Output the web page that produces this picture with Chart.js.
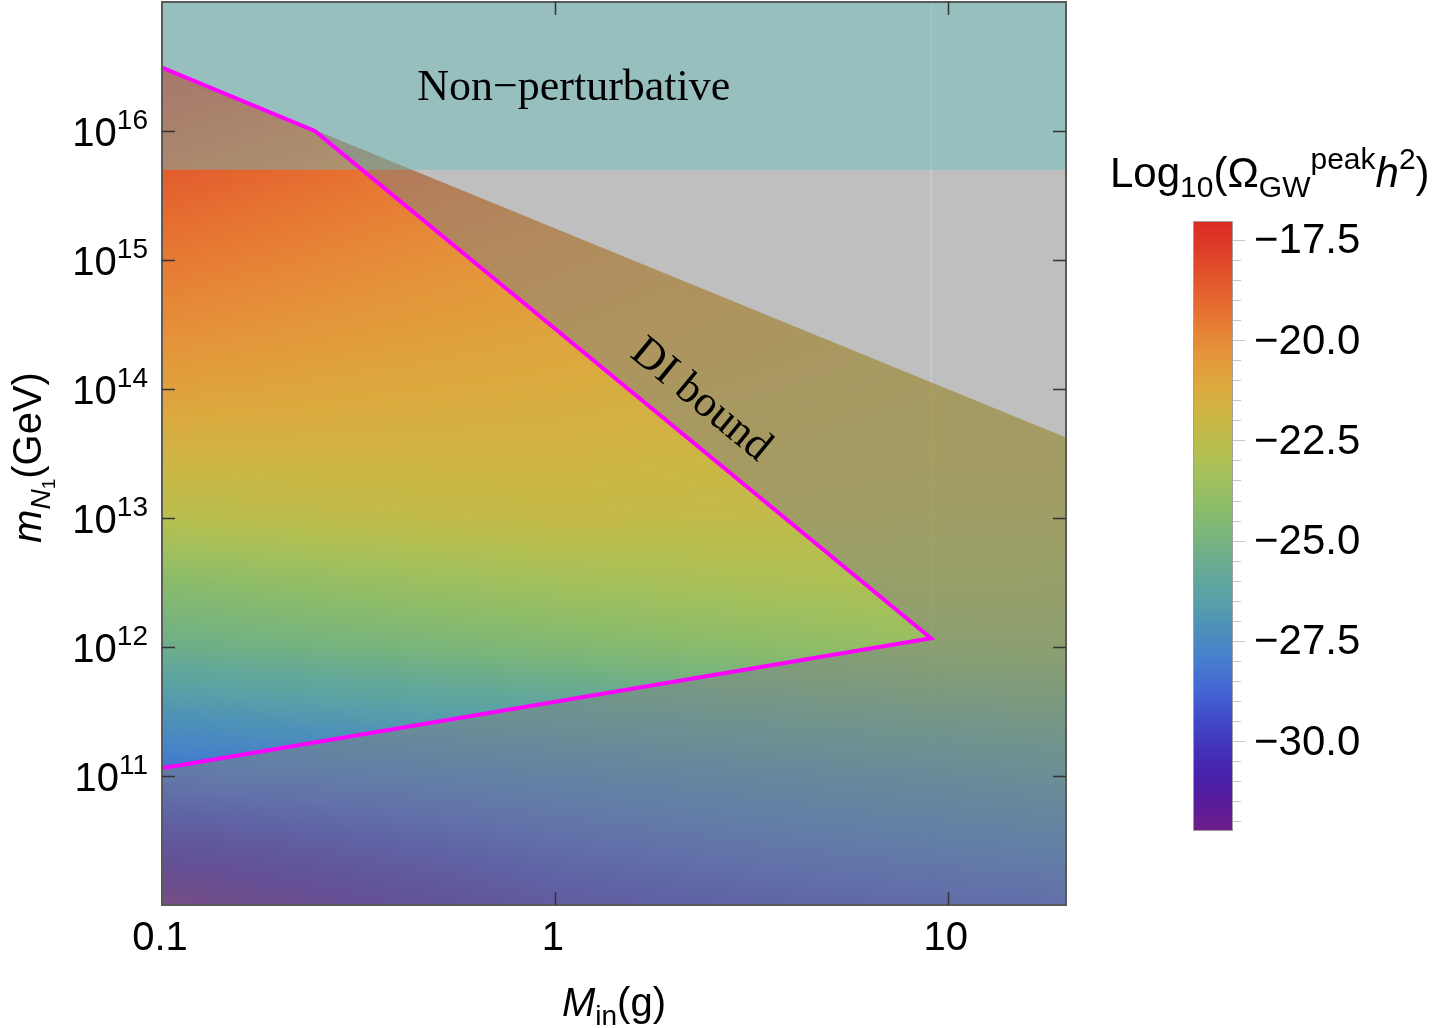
<!DOCTYPE html>
<html>
<head>
<meta charset="utf-8">
<script src="https://cdn.jsdelivr.net/npm/chart.js@4/dist/chart.umd.min.js"></script>
<style>
  html, body { margin: 0; padding: 0; background: #ffffff; }
  #wrap { width: 1432px; height: 1028px; position: relative; }
</style>
</head>
<body>
<div id="wrap"><canvas id="c" width="1432" height="1028"></canvas></div>
<script>
// ---------------- data ----------------
// Axis ranges
const xRange = [0.1, 20];          // M_in (g)
const yRange = [1e10, 1e17];       // m_N1 (GeV)

// Tick values / labels
const xTickValues = [0.1, 1, 10];
const xTickLabels = ['0.1', '1', '10'];
const yTickExponents = [11, 12, 13, 14, 15, 16];

// Grid on which Log10(Omega_GW^peak h^2) was read (log10 of M_in, log10 of m_N1)
const gridLogM = [-1, -0.5, 0, 0.5, 1, 1.301];
const gridLogMN = [10, 10.5, 11, 11.5, 12, 12.5, 13, 13.5, 14, 14.5, 15, 15.5, 16, 16.5, 17];
const omegaPeak = [
  [-32.2, -31.0, -30.0, -29.5, -29.1, -28.9],
  [-30.3, -29.6, -28.9, -28.4, -28.0, -27.8],
  [-28.4, -28.1, -27.7, -27.3, -26.9, -26.6],
  [-27.0, -26.6, -26.2, -25.8, -25.4, -25.2],
  [-25.4, -25.0, -24.6, -24.2, -23.8, -23.7],
  [-24.3, -23.8, -23.4, -23.1, -22.9, -23.0],
  [-22.7, -22.4, -22.2, -22.3, -22.5, -22.5],
  [-21.7, -21.7, -21.7, -21.9, -22.1, -22.1],
  [-20.8, -21.1, -21.3, -21.6, -21.9, -22.0],
  [-20.1, -20.5, -20.9, -21.3, -21.7, -21.9],
  [-19.5, -20.0, -20.5, -21.0, -21.4, -21.6],
  [-18.9, -19.5, -20.0, -20.5, -21.0, -21.3],
  [-18.3, -18.9, -19.4, -20.0, -20.5, -20.8],
  [-17.7, -18.3, -18.9, -19.5, -20.1, -20.4],
  [-17.05, -17.7, -18.3, -18.9, -19.5, -19.8]
];

// Upper edge of the computed region (straight line in log-log)
const boundaryM = [0.1, 20];
const boundaryMN = [3.1e16, 4.2e13];

// DI bound (magenta closed contour)
const diBoundM = [0.1, 0.245, 9.06, 0.1];
const diBoundMN = [3.1e16, 1.0e16, 1.17e12, 1.15e11];

// Non-perturbative limit
const nonPertMN = 5e15;

// Colour bar
const cbarRange = [-32.24, -17.03];
const cbarTicks = [-17.5, -20.0, -22.5, -25.0, -27.5, -30.0];
const cbarStopValues = [-17.03, -17.79, -18.55, -19.31, -19.77, -20.38, -21.14, -21.90, -22.66, -23.42, -24.18,
                        -24.94, -25.70, -26.46, -27.22, -27.98, -28.74, -29.50, -30.26, -31.02, -31.63, -32.24];
const cbarStopColors = ['#dc2a24', '#de3e28', '#e2582c', '#e67232', '#e68236', '#e4963a', '#dca83e', '#ccb644',
                        '#b8be4e', '#a2c05c', '#8cbc6a', '#78b47c', '#66aa94', '#58a0a8', '#4c90ba', '#457ecc',
                        '#4466d4', '#4048c8', '#4430b8', '#4a1ea8', '#5c1c98', '#6e1e88'];

// ---------------- helpers ----------------
function hexToRgb(h) {
  return [parseInt(h.slice(1, 3), 16), parseInt(h.slice(3, 5), 16), parseInt(h.slice(5, 7), 16)];
}
const cbarRgb = cbarStopColors.map(hexToRgb);

function colorFor(v) {
  const n = cbarStopValues.length;
  if (v >= cbarStopValues[0]) return cbarRgb[0];
  if (v <= cbarStopValues[n - 1]) return cbarRgb[n - 1];
  for (let i = 0; i < n - 1; i++) {
    const a = cbarStopValues[i], b = cbarStopValues[i + 1];
    if (v <= a && v >= b) {
      const t = (a - v) / (a - b);
      const c0 = cbarRgb[i], c1 = cbarRgb[i + 1];
      return [c0[0] + (c1[0] - c0[0]) * t, c0[1] + (c1[1] - c0[1]) * t, c0[2] + (c1[2] - c0[2]) * t];
    }
  }
  return cbarRgb[n - 1];
}

function locate(arr, v) {
  if (v <= arr[0]) return [0, 0];
  const n = arr.length;
  if (v >= arr[n - 1]) return [n - 2, 1];
  for (let i = 0; i < n - 1; i++) {
    if (v >= arr[i] && v <= arr[i + 1]) return [i, (v - arr[i]) / (arr[i + 1] - arr[i])];
  }
  return [n - 2, 1];
}

function fieldAt(lM, lm) {
  const [i, tx] = locate(gridLogM, lM);
  const [j, ty] = locate(gridLogMN, lm);
  const v00 = omegaPeak[j][i], v10 = omegaPeak[j][i + 1];
  const v01 = omegaPeak[j + 1][i], v11 = omegaPeak[j + 1][i + 1];
  return (v00 * (1 - tx) + v10 * tx) * (1 - ty) + (v01 * (1 - tx) + v11 * tx) * ty;
}

function runsWidth(ctx, runs) {
  let w = 0;
  for (const r of runs) { ctx.font = r[1]; w += ctx.measureText(r[0]).width; }
  return w;
}
function drawRuns(ctx, runs, x, y) {
  let cx = x;
  for (const r of runs) {
    ctx.font = r[1];
    ctx.fillText(r[0], cx, y + (r[2] || 0));
    cx += ctx.measureText(r[0]).width;
  }
}

const SANS = '"Liberation Sans", Arial, Helvetica, sans-serif';
const SERIF = '"Liberation Serif", "Times New Roman", serif';

let fieldCanvas = null;

const fieldPlugin = {
  id: 'fieldPlugin',
  beforeDraw(chart) {
    const ctx = chart.ctx;
    ctx.save();
    ctx.fillStyle = '#ffffff';
    ctx.fillRect(0, 0, chart.width, chart.height);
    ctx.restore();
  },
  beforeDatasetsDraw(chart) {
    const ctx = chart.ctx;
    const xs = chart.scales.x, ys = chart.scales.y;
    const { left, top, right, bottom } = chart.chartArea;
    const w = Math.round(right - left), h = Math.round(bottom - top);

    if (!fieldCanvas) {
      fieldCanvas = document.createElement('canvas');
      fieldCanvas.width = w; fieldCanvas.height = h;
      const fctx = fieldCanvas.getContext('2d');
      const img = fctx.createImageData(w, h);
      const colsLM = [];
      for (let i = 0; i < w; i++) colsLM.push(Math.log10(xs.getValueForPixel(left + i + 0.5)));
      for (let j = 0; j < h; j++) {
        const lm = Math.log10(ys.getValueForPixel(top + j + 0.5));
        for (let i = 0; i < w; i++) {
          const c = colorFor(fieldAt(colsLM[i], lm));
          const k = (j * w + i) * 4;
          img.data[k] = c[0]; img.data[k + 1] = c[1]; img.data[k + 2] = c[2]; img.data[k + 3] = 255;
        }
      }
      fctx.putImageData(img, 0, 0);
    }

    // density field, clipped below the upper boundary of the computed region
    ctx.save();
    ctx.beginPath();
    ctx.moveTo(left, bottom);
    ctx.lineTo(xs.getPixelForValue(boundaryM[0]), ys.getPixelForValue(boundaryMN[0]));
    ctx.lineTo(xs.getPixelForValue(boundaryM[1]), ys.getPixelForValue(boundaryMN[1]));
    ctx.lineTo(right, bottom);
    ctx.closePath();
    ctx.clip();
    ctx.drawImage(fieldCanvas, left, top);
    ctx.restore();

    // grey shading outside the DI-bound region
    const pts = diBoundM.map((m, i) => [xs.getPixelForValue(m), ys.getPixelForValue(diBoundMN[i])]);
    let tipX = left;
    pts.forEach(p => { if (p[0] > tipX) tipX = p[0]; });
    ctx.save();
    ctx.fillStyle = 'rgba(128,128,128,0.5)';
    ctx.beginPath();
    ctx.rect(left, top, tipX - left, bottom - top);
    ctx.moveTo(pts[0][0], pts[0][1]);
    for (let i = 1; i < pts.length; i++) ctx.lineTo(pts[i][0], pts[i][1]);
    ctx.closePath();
    ctx.fill('evenodd');
    ctx.beginPath();
    ctx.rect(tipX + 0.3, top, right - tipX - 0.3, bottom - top);
    ctx.fill();
    ctx.restore();

    // non-perturbative band
    const yNP = ys.getPixelForValue(nonPertMN);
    ctx.save();
    ctx.fillStyle = 'rgba(101,190,188,0.45)';
    ctx.fillRect(left, top, right - left, yNP - top);
    ctx.restore();
  },
  afterDatasetsDraw(chart) {
    const ctx = chart.ctx;
    const xs = chart.scales.x, ys = chart.scales.y;
    const { left, top, right, bottom } = chart.chartArea;

    ctx.save();
    // annotations
    ctx.fillStyle = '#000';
    ctx.font = '44px ' + SERIF;
    ctx.textAlign = 'center';
    ctx.textBaseline = 'middle';
    ctx.fillText('Non\u2212perturbative', xs.getPixelForValue(1.117), ys.getPixelForValue(2.15e16));

    const p1x = xs.getPixelForValue(diBoundM[1]), p1y = ys.getPixelForValue(diBoundMN[1]);
    const p2x = xs.getPixelForValue(diBoundM[2]), p2y = ys.getPixelForValue(diBoundMN[2]);
    const ang = Math.atan2(p2y - p1y, p2x - p1x);
    ctx.save();
    ctx.translate(xs.getPixelForValue(2.35), ys.getPixelForValue(8.2e13));
    ctx.rotate(ang);
    ctx.fillText('DI bound', 0, 0);
    ctx.restore();

    // frame
    ctx.strokeStyle = '#5a5a5a';
    ctx.lineWidth = 2;
    ctx.strokeRect(left, top, right - left, bottom - top);

    // ticks
    ctx.strokeStyle = '#333';
    ctx.lineWidth = 1.5;
    const TL = 13;
    ctx.beginPath();
    yTickExponents.forEach(e => {
      const y = Math.round(ys.getPixelForValue(Math.pow(10, e))) + 0.5;
      ctx.moveTo(left, y); ctx.lineTo(left + TL, y);
      ctx.moveTo(right, y); ctx.lineTo(right - TL, y);
    });
    xTickValues.forEach(v => {
      const x = Math.round(xs.getPixelForValue(v)) + 0.5;
      if (x <= left + 1) return;
      ctx.moveTo(x, bottom); ctx.lineTo(x, bottom - TL);
      ctx.moveTo(x, top); ctx.lineTo(x, top + TL);
    });
    ctx.stroke();

    // tick labels
    ctx.fillStyle = '#000';
    ctx.textAlign = 'center';
    ctx.textBaseline = 'middle';
    ctx.font = '40px ' + SANS;
    xTickValues.forEach((v, i) => {
      ctx.fillText(xTickLabels[i], xs.getPixelForValue(v) - 2, 939);
    });
    ctx.textAlign = 'left';
    ctx.textBaseline = 'alphabetic';
    yTickExponents.forEach(e => {
      const y = ys.getPixelForValue(Math.pow(10, e));
      const runs = [['10', '40px ' + SANS, 0], [String(e), '28px ' + SANS, -17]];
      const wdt = runsWidth(ctx, runs);
      drawRuns(ctx, runs, 148 - wdt, y + 15);
    });

    // axis titles
    const xt = [['M', 'italic 40px ' + SANS, 0], ['in', '28px ' + SANS, 9], ['(g)', '40px ' + SANS, 0]];
    const xtw = runsWidth(ctx, xt);
    drawRuns(ctx, xt, (left + right) / 2 - xtw / 2, 1016);

    const yt = [['m', 'italic 40px ' + SANS, 0], ['N', 'italic 28px ' + SANS, 9], ['1', '19px ' + SANS, 14], ['(GeV)', '40px ' + SANS, 0]];
    const ytw = runsWidth(ctx, yt);
    ctx.save();
    ctx.translate(41, (top + bottom) / 2 + 4);
    ctx.rotate(-Math.PI / 2);
    drawRuns(ctx, yt, -ytw / 2, 0);
    ctx.restore();

    // colour bar
    const cbX = 1193, cbW = 40, cbTop = 221, cbBot = 831;
    const vToY = v => cbTop + (cbarRange[1] - v) / (cbarRange[1] - cbarRange[0]) * (cbBot - cbTop);
    const grad = ctx.createLinearGradient(0, cbTop, 0, cbBot);
    cbarStopValues.forEach((v, i) => {
      const off = (cbarRange[1] - v) / (cbarRange[1] - cbarRange[0]);
      grad.addColorStop(Math.min(1, Math.max(0, off)), cbarStopColors[i]);
    });
    ctx.fillStyle = grad;
    ctx.fillRect(cbX, cbTop, cbW, cbBot - cbTop);
    ctx.strokeStyle = '#a0a0a0';
    ctx.lineWidth = 1;
    ctx.strokeRect(cbX + 0.5, cbTop + 0.5, cbW - 1, cbBot - cbTop - 1);
    ctx.beginPath();
    for (let v = -17.5; v >= -32.01; v -= 0.5) {
      const y = Math.round(vToY(v)) + 0.5;
      const major = cbarTicks.some(t => Math.abs(t - v) < 1e-6);
      ctx.moveTo(cbX + cbW, y); ctx.lineTo(cbX + cbW + (major ? 12 : 8), y);
    }
    ctx.strokeStyle = '#c8c8c8';
    ctx.stroke();
    ctx.fillStyle = '#000';
    ctx.font = '42px ' + SANS;
    ctx.textAlign = 'left';
    ctx.textBaseline = 'middle';
    cbarTicks.forEach(v => {
      ctx.fillText('\u2212' + Math.abs(v).toFixed(1), 1254, vToY(v) + 2);
    });
    ctx.textBaseline = 'alphabetic';
    const ct = [['Log', '42px ' + SANS, 0], ['10', '30px ' + SANS, 10], ['(\u03A9', '42px ' + SANS, 0],
                ['GW', '30px ' + SANS, 10], ['peak', '30px ' + SANS, -18], ['h', 'italic 42px ' + SANS, 0],
                ['2', '30px ' + SANS, -18], [')', '42px ' + SANS, 0]];
    drawRuns(ctx, ct, 1110, 187);
    ctx.restore();
  }
};

const diPoints = diBoundM.map((m, i) => ({ x: m, y: diBoundMN[i] }));

new Chart(document.getElementById('c'), {
  type: 'scatter',
  data: {
    datasets: [{
      label: 'DI bound',
      data: diPoints,
      showLine: true,
      borderColor: '#ff00ff',
      backgroundColor: '#ff00ff',
      borderWidth: 4,
      borderJoinStyle: 'miter',
      pointRadius: 0,
      tension: 0,
      fill: false
    }]
  },
  options: {
    responsive: false,
    animation: false,
    devicePixelRatio: 1,
    layout: { padding: { left: 162, right: 366, top: 2, bottom: 123 } },
    plugins: { legend: { display: false }, tooltip: { enabled: false } },
    scales: {
      x: { type: 'logarithmic', min: xRange[0], max: xRange[1], display: false },
      y: { type: 'logarithmic', min: yRange[0], max: yRange[1], display: false }
    }
  },
  plugins: [fieldPlugin]
});
</script>
</body>
</html>
